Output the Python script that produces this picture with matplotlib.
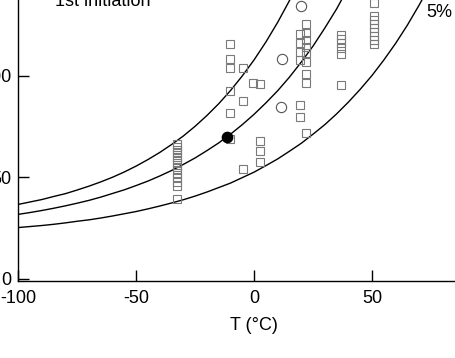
import matplotlib
matplotlib.use("Agg")
import matplotlib.pyplot as plt

plt.rcParams['font.family'] = ['Liberation Sans', 'DejaVu Sans']

# Model curves (at 5 degC steps)
curve_T1 = [-100, -95, -90, -85, -80, -75, -70, -65, -60, -55, -50, -45, -40, -35, -30, -25,
            -20, -15, -10, -5, 0, 5, 10, 15, 20]
curve_v1 = [36.6, 37.8, 39.0, 40.5, 41.9, 43.7, 45.6, 47.7, 50.0, 52.6, 55.5, 58.7, 62.2, 66.1,
            70.3, 75.1, 80.4, 86.2, 92.7, 99.9, 107.8, 116.6, 126.3, 137.0, 149.0]
curve_T2 = [-100, -95, -90, -85, -80, -75, -70, -65, -60, -55, -50, -45, -40, -35, -30, -25,
            -20, -15, -10, -5, 0, 5, 10, 15, 20, 25, 30, 35, 40]
curve_v2 = [31.7, 32.6, 33.6, 34.7, 35.9, 37.2, 38.6, 40.2, 42.0, 43.8, 45.9, 48.1, 50.6, 53.3,
            56.3, 59.5, 63.1, 66.9, 71.2, 75.9, 81.0, 86.6, 92.6, 99.3, 106.7, 114.6, 123.5,
            132.9, 143.6]
curve_T3 = [-100, -95, -90, -85, -80, -75, -70, -65, -60, -55, -50, -45, -40, -35, -30, -25,
            -20, -15, -10, -5, 0, 5, 10, 15, 20, 25, 30, 35, 40, 45, 50, 55, 60, 65, 70, 75, 80]
curve_v3 = [25.2, 25.7, 26.2, 26.8, 27.5, 28.3, 29.0, 29.9, 30.9, 32.0, 33.1, 34.4, 35.8, 37.3,
            38.9, 40.7, 42.7, 44.9, 47.1, 49.8, 52.5, 55.7, 59.0, 62.8, 66.7, 71.2, 75.9, 81.2,
            87.0, 93.3, 100.1, 107.7, 115.9, 124.9, 134.8, 145.4, 157.3]

# Open squares
sq_T = ([-32.5] * 14
        + [-10.3] * 6
        + [-4.5] * 3
        + [-0.3, 2.5]
        + [2.5] * 3
        + [19.5] * 6
        + [22.1] * 9
        + [36.9] * 6
        + [50.9] * 9)
sq_v = ([66.6, 65.0, 63.4, 61.8, 60.1, 58.5, 56.8, 55.2, 53.5, 51.9, 50.1, 47.6, 45.6, 39.3]
        + [115.6, 108.2, 103.9, 92.5, 81.5, 68.7]
        + [103.9, 87.5, 54.0]
        + [96.6, 95.8]
        + [67.8, 63.1, 57.3]
        + [120.4, 116.0, 111.8, 107.7, 85.6, 79.8]
        + [125.5, 121.2, 117.6, 114.3, 111.0, 106.7, 100.8, 96.3, 71.6]
        + [120.0, 117.9, 116.0, 113.5, 110.7, 95.4]
        + [135.7, 129.3, 127.4, 125.5, 123.5, 121.5, 119.6, 117.6, 115.8])

# Open circles
ci_T = [19.9, 12.0, 11.3]
ci_v = [134.5, 108.1, 84.7]

# Filled circle
fc_T = [-11.7]
fc_v = [70.0]

x_ticks = [-100, -50, 0, 50]
x_ticklabels = ["-100", "-50", "0", "50"]
y_ticks = [0, 50, 100]
y_ticklabels = ["0", "50", "100"]

fig = plt.figure(figsize=(4.55, 3.58), dpi=100)
ax = fig.add_axes([18.3 / 455, (358 - 281.3) / 358, 1 - 18.3 / 455, 1 - (358 - 281.3) / 358])

for T, v in [(curve_T1, curve_v1), (curve_T2, curve_v2), (curve_T3, curve_v3)]:
    ax.plot(T, v, color='black', lw=1.0, zorder=2)

ax.plot(sq_T, sq_v, ls='none', marker='s', ms=6.0, mfc='none', mec='#7a7a7a', mew=0.8,
        clip_on=False, zorder=3)
ax.plot(ci_T, ci_v, ls='none', marker='o', ms=7.4, mfc='none', mec='#555555', mew=0.8,
        clip_on=False, zorder=3)
ax.plot(fc_T, fc_v, ls='none', marker='o', ms=7.4, mfc='black', mec='black', zorder=4)

ax.set_xlim(-100, -100 + (455 - 18.3) / 2.358)
ax.set_ylim(-1.28, 137.29)

for s in ['top', 'right']:
    ax.spines[s].set_visible(False)
for s in ['left', 'bottom']:
    ax.spines[s].set_linewidth(1.0)

ax.set_xticks(x_ticks)
ax.set_xticklabels(x_ticklabels)
ax.set_yticks(y_ticks)
ax.set_yticklabels(y_ticklabels)
ax.tick_params(direction='in', length=8, width=1.0, labelsize=13, pad=6)
ax.tick_params(axis='y', pad=4.8)

ax.text(0, -0.173, 'T (°C)', transform=ax.get_xaxis_transform(), ha='center', va='baseline',
        fontsize=13)
ax.text(-84.3, 134.5, '1st initiation', ha='left', va='baseline', fontsize=13)
ax.text(73.1, 129.1, '5%', ha='left', va='baseline', fontsize=13)

fig.savefig('out.png', dpi=100)
